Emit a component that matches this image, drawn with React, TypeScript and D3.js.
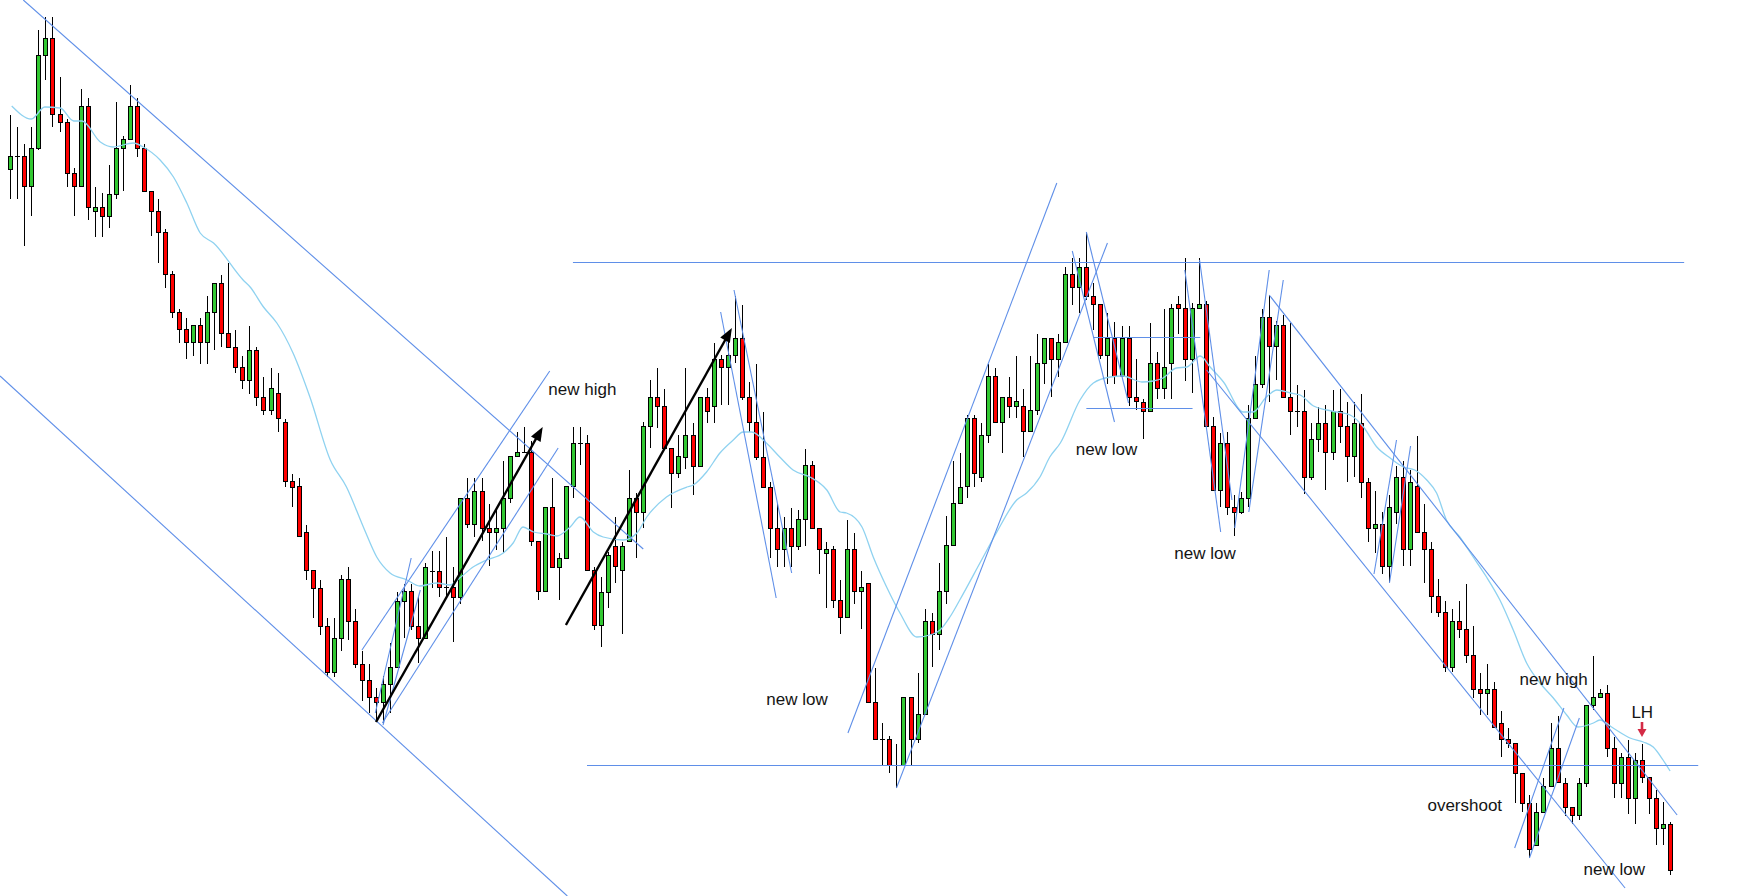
import React from "react";
import * as d3 from "d3";

// OHLC values (price units), one entry per bar
const opens = [727,740,740,710,748,841,858,782,774,723,710,790,685,689,680,702,748,757,790,748,705,685,664,622,584,567,554,571,554,584,613,563,549,529,516,546,499,486,503,474,415,410,364,326,308,270,224,258,317,275,232,216,199,194,212,229,295,305,270,258,325,325,309,309,299,398,372,405,368,364,368,398,440,444,444,355,305,389,329,338,410,453,453,326,271,304,350,326,355,398,384,470,499,490,448,423,439,461,430,499,490,537,529,541,558,499,474,439,409,368,347,368,350,377,431,368,343,347,296,279,347,305,313,194,157,157,131,131,199,157,182,275,262,305,351,393,410,478,419,461,520,474,499,490,490,465,486,533,558,537,554,622,609,629,600,592,541,558,520,558,499,494,485,533,508,533,592,588,537,588,592,470,406,453,389,384,398,478,512,579,550,571,499,485,485,419,457,473,444,485,470,440,473,414,368,372,330,384,419,347,410,364,347,300,284,229,275,267,241,207,203,207,173,157,153,123,93,51,84,110,148,113,89,81,113,191,199,203,148,113,139,98,136,119,98,68,72];
const highs = [781,769,752,769,866,879,879,819,777,728,807,798,709,703,731,794,760,811,798,752,705,697,667,625,587,578,571,578,600,613,621,633,566,540,570,549,519,528,523,477,422,418,371,326,316,278,278,321,329,287,245,232,208,220,253,304,312,312,299,333,345,345,359,329,398,418,418,418,392,389,435,440,464,469,455,355,389,418,343,410,469,469,461,329,319,344,379,354,426,403,474,516,528,507,448,461,528,473,499,508,553,541,559,600,591,514,532,484,414,393,379,388,386,447,435,368,354,350,316,376,363,325,313,228,173,160,152,199,199,223,287,283,333,380,435,443,481,481,473,532,528,499,519,540,507,540,562,558,558,562,629,638,638,664,613,592,583,574,570,570,537,497,573,544,587,592,600,638,593,638,595,479,463,464,401,404,491,540,587,601,575,581,573,511,506,473,489,491,506,507,494,494,502,418,405,384,401,430,435,426,460,392,354,317,295,287,295,312,270,223,232,214,185,168,153,123,101,93,118,173,180,118,89,118,191,240,207,211,159,143,156,143,152,119,106,94,74];
const lows = [697,697,650,680,746,816,769,764,709,680,710,676,659,659,668,697,705,757,739,705,660,633,608,578,553,537,540,532,532,546,549,549,523,507,502,490,481,481,464,409,389,360,316,278,261,219,219,245,256,228,195,183,174,173,183,229,258,266,233,258,308,299,299,254,292,368,359,355,330,346,343,393,440,444,350,296,305,329,296,338,398,431,326,266,249,288,313,262,355,338,368,448,468,448,388,418,427,401,430,473,473,491,491,533,496,464,436,409,338,329,329,329,346,350,368,322,288,288,262,279,292,267,194,157,131,123,108,131,131,153,182,229,246,292,351,393,398,409,414,453,474,443,478,478,439,465,481,512,499,519,554,591,583,596,566,537,512,512,520,490,486,457,485,497,497,497,562,515,503,588,470,406,389,381,360,382,389,478,508,494,516,499,461,469,402,416,444,406,436,453,414,419,398,354,343,322,314,372,330,330,364,313,283,279,224,224,258,233,198,181,181,169,139,148,93,84,38,51,84,110,114,80,72,76,109,186,199,139,98,98,82,72,113,82,51,51,21];
const closes = [740,740,710,748,841,858,782,774,723,710,790,689,689,680,702,748,757,790,748,705,685,664,622,584,567,554,571,554,584,613,563,549,529,516,546,499,486,508,478,415,409,360,326,308,270,224,258,317,275,232,216,199,194,212,229,295,305,270,258,329,325,309,309,299,398,372,405,368,364,368,398,440,444,444,355,305,389,329,338,410,453,453,326,271,304,341,330,350,398,384,470,499,490,448,423,440,461,430,499,485,537,529,541,558,499,474,439,409,368,347,368,350,377,431,368,347,347,296,279,347,305,309,194,157,157,131,131,199,157,182,275,262,305,351,393,409,478,423,461,520,474,499,490,495,465,486,533,558,537,554,622,609,629,600,592,541,558,520,558,499,495,485,533,508,529,588,588,537,588,592,470,406,453,389,384,398,478,512,579,550,571,499,485,485,419,457,473,444,485,470,440,473,414,368,372,330,389,419,347,414,364,347,300,284,229,275,267,241,207,203,207,169,157,153,123,93,47,84,110,148,114,89,81,113,191,199,203,148,113,139,98,136,119,98,68,72,26];

// moving average, read as points (bar position, price)
const maIdx = [0.2,3.0,4.9,7.1,9.0,10.2,12.8,14.6,17.5,18.9,21.3,23.2,25.1,27.0,28.9,33.1,34.1,36.0,37.9,40.2,42.6,45.5,47.8,50.2,52.1,54.0,56.4,58.2,60.6,62.5,63.9,65.8,67.7,70.1,71.5,72.9,74.4,76.3,77.7,79.6,81.0,82.9,84.3,87.2,89.1,90.5,93.3,96.2,97.1,99.0,100.9,102.8,104.2,105.4,107.5,109.4,111.3,113.7,116.1,118.0,118.9,121.1,122.7,124.6,126.5,128.9,131.2,132.2,133.6,135.0,138.1,140.2,143.1,144.5,146.4,147.8,149.3,152.1,154.0,156.4,158.2,160.9,162.5,163.9,165.8,167.3,169.2,170.6,172.5,175.3,176.7,178.6,180.1,182.0,183.4,185.3,187.2,188.6,190.5,192.4,194.3,196.2,198.1,199.7,201.4,202.8,204.2,206.1,208.0,209.9,211.8,213.7,215.6,217.5,219.4,221.3,222.9,225.1,226.0,227.9,230.3,232.2,233.6,235.0,236.0];
const maVal = [790,777,789,788,775,775,754,749,753,749,736,719,693,663,653,616,609,589,573,543,499,436,409,369,339,323,316,310,313,311,318,329,336,343,353,369,364,362,360,369,379,364,359,356,363,379,399,409,411,424,443,456,464,464,453,439,426,419,406,384,383,369,339,309,283,259,262,266,279,296,336,363,396,403,419,439,453,496,513,519,520,514,515,518,528,529,540,529,514,484,484,499,506,503,501,490,486,484,481,469,449,438,429,426,416,403,376,359,339,319,296,266,233,213,198,181,169,173,176,168,158,154,149,136,125];

// trend lines: [bar1, price1, bar2, price2]
const trendLines = [
  [1.85, 896, 90.0, 347],
  [-1.46, 520, 79.2, 0],
  [50.0, 246, 76.7, 525],
  [52.9, 173, 77.9, 448],
  [51.9, 183, 57.0, 338],
  [53.0, 171, 58.3, 306],
  [101.0, 584, 108.9, 298],
  [102.9, 606, 111.1, 323],
  [119.1, 163, 148.8, 713],
  [126.0, 108, 156.0, 653],
  [80.0, 634, 238.0, 634],
  [82.0, 131, 240.0, 131],
  [151.0, 645, 157.0, 474],
  [153.0, 664, 159.0, 493],
  [154.0, 559, 169.2, 559],
  [153.0, 488, 168.1, 488],
  [167.0, 626, 172.1, 364],
  [169.1, 636, 173.7, 396],
  [174.1, 368, 179.0, 626],
  [176.1, 384, 181.0, 616],
  [179.0, 601, 237.0, 81],
  [170.1, 526, 229.6, 8],
  [193.9, 322, 197.1, 456],
  [196.1, 313, 199.1, 450],
  [213.9, 48, 220.9, 188],
  [216.0, 38, 223.1, 178],
];

// black trend arrows: [bar1, price1, bar2, price2]
const trendArrows = [
  [52.0, 174, 75.7, 469],
  [79.0, 271, 102.6, 568],
];

const labelTexts = ["new high", "new low", "new low", "new low", "new high", "LH", "overshoot", "new low"];
const labelBars = [76.5, 107.5, 151.5, 165.5, 214.6, 230.5, 201.5, 223.7];
const labelPrices = [501.5, 191, 441, 336.7, 211, 178.3, 85.3, 21];

const lhArrow = [232.0, 174, 159];

export default function App() {
  const W = 1757;
  const H = 896;
  const n = opens.length;
  const x = d3.scaleLinear().domain([0, n - 1]).range([10.3, 10.3 + 7.033 * (n - 1)]);
  const y = d3.scaleLinear().domain([0, 896]).range([896, 0]);

  const maPts = maIdx.map((d, i) => [x(d), y(maVal[i])] as [number, number]);
  const maPath = d3.line().curve(d3.curveMonotoneX)(maPts) || "";

  const green = "#32c832";
  const red = "#ff0000";
  const blue = "#5f8fe8";
  const maColor = "#8fd2f0";

  const candles = opens.map((o, i) => {
    const c = closes[i];
    const cx = Math.round(x(i));
    const yHi = Math.round(y(highs[i]));
    const yLo = Math.round(y(lows[i]));
    const top = Math.round(y(Math.max(o, c)));
    const bot = Math.round(y(Math.min(o, c)));
    const up = c > o;
    const doji = bot - top < 1;
    return (
      <g key={i}>
        <line x1={cx + 0.5} x2={cx + 0.5} y1={yHi} y2={yLo} stroke="#000" strokeWidth={1} />
        {doji ? (
          <line x1={cx - 2} x2={cx + 3} y1={top + 0.5} y2={top + 0.5} stroke="#000" strokeWidth={1} />
        ) : (
          <rect x={cx - 1.5} y={top + 0.5} width={4} height={bot - top} fill={up ? green : red} stroke="#000" strokeWidth={1} />
        )}
      </g>
    );
  });

  const arrowEls = trendArrows.map((a, i) => {
    const x1 = x(a[0]), y1 = y(a[1]), x2 = x(a[2]), y2 = y(a[3]);
    const ang = Math.atan2(y2 - y1, x2 - x1);
    const len = 14, hw = 5.5;
    const bx = x2 - len * Math.cos(ang), by = y2 - len * Math.sin(ang);
    const px = -Math.sin(ang), py = Math.cos(ang);
    const pts = `${x2},${y2} ${bx + px * hw},${by + py * hw} ${bx - px * hw},${by - py * hw}`;
    return (
      <g key={"a" + i}>
        <line x1={x1} y1={y1} x2={bx + 2 * Math.cos(ang)} y2={by + 2 * Math.sin(ang)} stroke="#000" strokeWidth={2.4} />
        <polygon points={pts} fill="#000" />
      </g>
    );
  });

  const lx = Math.round(x(lhArrow[0]));
  const ly1 = y(lhArrow[1]);
  const ly2 = y(lhArrow[2]);

  return (
    <svg
      width={W}
      height={H}
      style={{ position: "absolute", left: 0, top: 0, background: "#fff" }}
    >
      <rect x={0} y={0} width={W} height={H} fill="#fff" />
      {candles}
      <path d={maPath} fill="none" stroke={maColor} strokeWidth={1.3} />
      {trendLines.map((l, i) => (
        <line
          key={"t" + i}
          x1={x(l[0])}
          y1={l[1] === l[3] ? Math.round(y(l[1])) + 0.5 : y(l[1])}
          x2={x(l[2])}
          y2={l[1] === l[3] ? Math.round(y(l[3])) + 0.5 : y(l[3])}
          stroke={blue}
          strokeWidth={1.1}
        />
      ))}
      {arrowEls}
      <line x1={lx} x2={lx} y1={ly1} y2={ly2 - 7} stroke="#d42a45" strokeWidth={2.6} />
      <polygon points={`${lx - 4.5},${ly2 - 8} ${lx + 4.5},${ly2 - 8} ${lx},${ly2}`} fill="#d42a45" />
      {labelTexts.map((t, i) => (
        <text
          key={"l" + i}
          x={x(labelBars[i])}
          y={y(labelPrices[i])}
          fontFamily="'Liberation Sans', Arial, sans-serif"
          fontSize={17}
          fill="#141414"
        >
          {t}
        </text>
      ))}
    </svg>
  );
}
